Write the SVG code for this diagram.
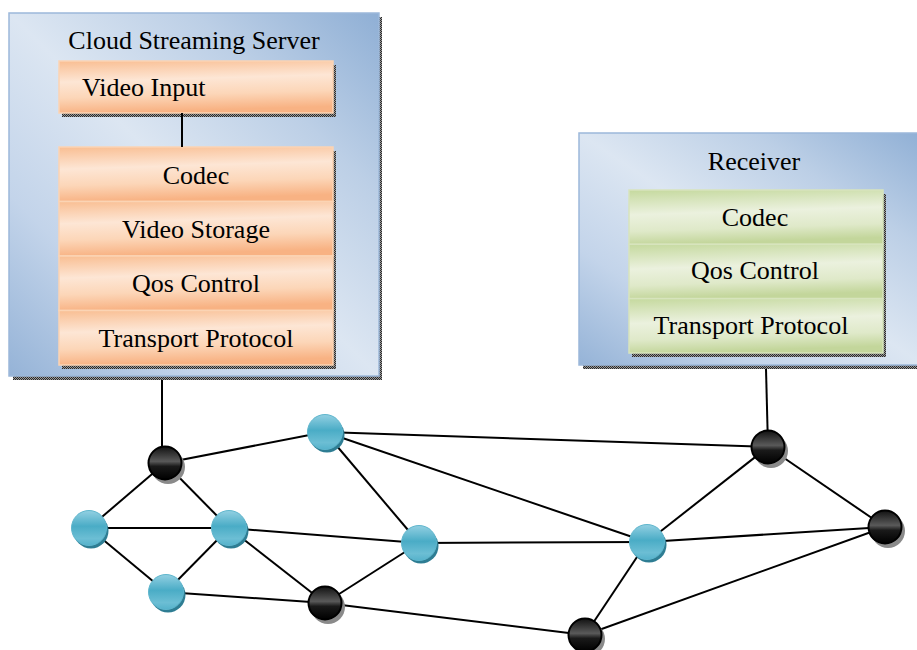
<svg xmlns="http://www.w3.org/2000/svg" width="917" height="650" viewBox="0 0 917 650">
<style>
  text { font-family: "Liberation Serif", "Times New Roman", serif; font-size: 26px; fill: #000; }
  .c { text-anchor: middle; }
  .shadow { fill: url(#hatch); }
  .outer { fill: url(#blueBox); stroke: #9cb8da; stroke-width: 1.5; }
  .orow { fill: url(#orange); stroke: #fbd4b4; stroke-width: 1.5; }
  .grow { fill: url(#green); stroke: #d7e4bd; stroke-width: 1.5; }
  .edge { stroke: #000; stroke-width: 2; fill: none; }
  .bshadow { fill: #2e7d93; }
  .blue { fill: url(#blueNode); stroke: #5fb6cd; stroke-width: 1; }
  .kshadow { fill: #8a8a8a; }
  .black { fill: url(#blackNode); stroke: #000; stroke-width: 2; }
</style>
<defs>
  <pattern id="hatch" width="2" height="2" patternUnits="userSpaceOnUse">
    <rect width="2" height="2" fill="#9a9a9a"/>
    <rect width="1" height="1" fill="#2a2a2a"/>
    <rect x="1" y="1" width="1" height="1" fill="#2a2a2a"/>
  </pattern>
  <linearGradient id="blueBox" x1="0" y1="1" x2="1" y2="0">
    <stop offset="0" stop-color="#95b3d7"/>
    <stop offset="0.25" stop-color="#c3d4ea"/>
    <stop offset="0.5" stop-color="#dce6f2"/>
    <stop offset="0.75" stop-color="#bccfe6"/>
    <stop offset="1" stop-color="#8fafd5"/>
  </linearGradient>
  <linearGradient id="orange" x1="0" y1="0" x2="0.15" y2="1">
    <stop offset="0" stop-color="#f9be92"/>
    <stop offset="0.4" stop-color="#fde6d5"/>
    <stop offset="0.7" stop-color="#fcd6b8"/>
    <stop offset="1" stop-color="#f8b283"/>
  </linearGradient>
  <linearGradient id="green" x1="0" y1="0" x2="0.15" y2="1">
    <stop offset="0" stop-color="#c5d99e"/>
    <stop offset="0.45" stop-color="#ebf1de"/>
    <stop offset="0.75" stop-color="#dfe9c9"/>
    <stop offset="1" stop-color="#c3d69b"/>
  </linearGradient>
  <linearGradient id="blueNode" x1="0" y1="0" x2="0" y2="1">
    <stop offset="0" stop-color="#93d0e2"/>
    <stop offset="0.45" stop-color="#4aacc6"/>
    <stop offset="0.8" stop-color="#6cbed4"/>
    <stop offset="1" stop-color="#55b2cb"/>
  </linearGradient>
  <linearGradient id="blackNode" x1="0" y1="0" x2="0" y2="1">
    <stop offset="0" stop-color="#111"/>
    <stop offset="0.45" stop-color="#5a5a5a"/>
    <stop offset="0.6" stop-color="#1a1a1a"/>
    <stop offset="1" stop-color="#000"/>
  </linearGradient>
</defs>

<g id="server">
  <rect class="shadow" x="13" y="17" width="369" height="363"/>
  <rect class="outer" x="9" y="13" width="370" height="363"/>
  <text class="c" x="194" y="49">Cloud Streaming Server</text>
  <g id="server-video-input">
    <rect class="shadow" x="62" y="65" width="274" height="52"/>
    <rect class="orow" x="59" y="61" width="274" height="52"/>
    <text x="82" y="96">Video Input</text>
  </g>
  <g id="server-stack">
    <rect class="shadow" x="62" y="151" width="274" height="218"/>
    <rect class="orow" x="59" y="147" width="274" height="54.5"/>
    <rect class="orow" x="59" y="201.5" width="274" height="54.5"/>
    <rect class="orow" x="59" y="256" width="274" height="54.5"/>
    <rect class="orow" x="59" y="310.5" width="274" height="54.5"/>
    <text class="c" x="196" y="184">Codec</text>
    <text class="c" x="196" y="238">Video Storage</text>
    <text class="c" x="196" y="292">Qos Control</text>
    <text class="c" x="196" y="347">Transport Protocol</text>
  </g>
</g>

<g id="receiver">
  <rect class="shadow" x="583" y="137" width="340" height="232"/>
  <rect class="outer" x="579" y="133" width="345" height="232"/>
  <text class="c" x="754" y="170">Receiver</text>
  <g id="receiver-stack">
    <rect class="shadow" x="632" y="194" width="254" height="163"/>
    <rect class="grow" x="629" y="190" width="254" height="54.3"/>
    <rect class="grow" x="629" y="244.3" width="254" height="54.3"/>
    <rect class="grow" x="629" y="298.6" width="254" height="54.4"/>
    <text class="c" x="755" y="226">Codec</text>
    <text class="c" x="755" y="279">Qos Control</text>
    <text class="c" x="751" y="334">Transport Protocol</text>
  </g>
</g>

<g id="connectors">
  <line class="edge" x1="182" y1="113" x2="182" y2="147"/>
  <line class="edge" x1="162" y1="380" x2="162" y2="450"/>
  <line class="edge" x1="766" y1="369" x2="768" y2="447"/>
  <line class="edge" x1="165" y1="463" x2="325" y2="432"/>
  <line class="edge" x1="165" y1="463" x2="89" y2="528"/>
  <line class="edge" x1="165" y1="463" x2="229" y2="528"/>
  <line class="edge" x1="89" y1="528" x2="229" y2="528"/>
  <line class="edge" x1="89" y1="528" x2="166" y2="592"/>
  <line class="edge" x1="166" y1="592" x2="229" y2="528"/>
  <line class="edge" x1="229" y1="528" x2="419" y2="543"/>
  <line class="edge" x1="229" y1="528" x2="325" y2="603"/>
  <line class="edge" x1="325" y1="432" x2="419" y2="543"/>
  <line class="edge" x1="325" y1="432" x2="768" y2="447"/>
  <line class="edge" x1="325" y1="432" x2="647" y2="542"/>
  <line class="edge" x1="419" y1="543" x2="325" y2="603"/>
  <line class="edge" x1="419" y1="543" x2="647" y2="542"/>
  <line class="edge" x1="166" y1="592" x2="325" y2="603"/>
  <line class="edge" x1="325" y1="603" x2="585" y2="635"/>
  <line class="edge" x1="647" y1="542" x2="768" y2="447"/>
  <line class="edge" x1="647" y1="542" x2="885" y2="527"/>
  <line class="edge" x1="647" y1="542" x2="585" y2="635"/>
  <line class="edge" x1="768" y1="447" x2="885" y2="527"/>
  <line class="edge" x1="885" y1="527" x2="585" y2="635"/>
</g>

<g id="n-b1"><circle class="kshadow" cx="168" cy="467" r="17"/><circle class="black" cx="165" cy="463" r="16.5"/></g>
<g id="n-b2"><circle class="kshadow" cx="328" cy="607" r="17"/><circle class="black" cx="325" cy="603" r="16.5"/></g>
<g id="n-b3"><circle class="kshadow" cx="771" cy="451" r="17"/><circle class="black" cx="768" cy="447" r="16.5"/></g>
<g id="n-b4"><circle class="kshadow" cx="888" cy="531" r="17"/><circle class="black" cx="885" cy="527" r="16.5"/></g>
<g id="n-b5"><circle class="kshadow" cx="588" cy="639" r="17"/><circle class="black" cx="585" cy="635" r="16.5"/></g>

<g id="n-c1"><circle class="bshadow" cx="327" cy="435" r="17.5"/><circle class="blue" cx="325" cy="432" r="17.5"/></g>
<g id="n-c2"><circle class="bshadow" cx="91" cy="531" r="17.5"/><circle class="blue" cx="89" cy="528" r="17.5"/></g>
<g id="n-c3"><circle class="bshadow" cx="231" cy="531" r="17.5"/><circle class="blue" cx="229" cy="528" r="17.5"/></g>
<g id="n-c4"><circle class="bshadow" cx="421" cy="546" r="17.5"/><circle class="blue" cx="419" cy="543" r="17.5"/></g>
<g id="n-c5"><circle class="bshadow" cx="168" cy="595" r="17.5"/><circle class="blue" cx="166" cy="592" r="17.5"/></g>
<g id="n-c6"><circle class="bshadow" cx="649" cy="545" r="17.5"/><circle class="blue" cx="647" cy="542" r="17.5"/></g>
</svg>
